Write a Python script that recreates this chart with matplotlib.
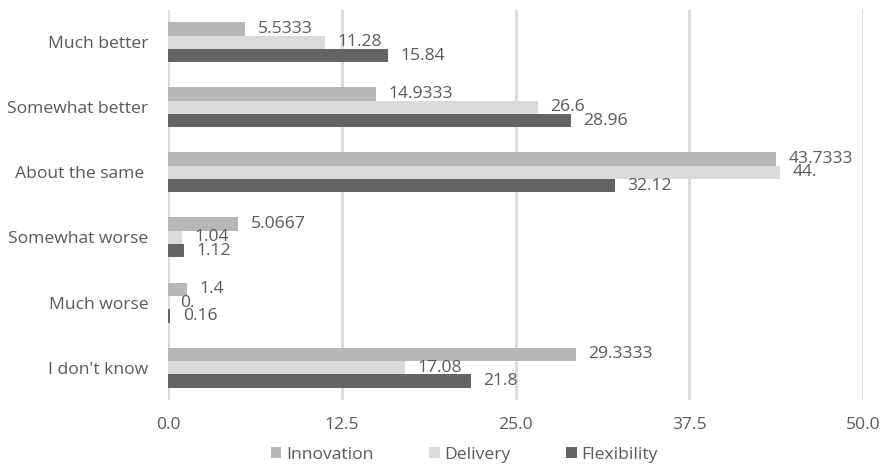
import matplotlib.pyplot as plt
import numpy as np

plt.rcParams['font.family'] = ['Open Sans', 'DejaVu Sans']

categories = ['Much better', 'Somewhat better', 'About the same ', 'Somewhat worse',
              'Much worse', "I don't know"]
innovation = [5.5333, 14.9333, 43.7333, 5.0667, 1.4, 29.3333]
delivery = [11.28, 26.6, 44.0, 1.04, 0.0, 17.08]
flexibility = [15.84, 28.96, 32.12, 1.12, 0.16, 21.8]
xticks = [0.0, 12.5, 25.0, 37.5, 50.0]

series = [('Innovation', innovation, '#b7b7b7'),
          ('Delivery', delivery, '#d9dbda'),
          ('Flexibility', flexibility, '#646464')]

txt = '#595959'
fs = 12.6


def fmt(v):
    return f'{v:.4f}'.rstrip('0')


fig = plt.figure(figsize=(8.86, 4.69), dpi=100)
ax = fig.add_axes([0.1896, 0.147, 0.7846, 0.832])

y = np.arange(len(categories))
h = 0.205
for k, (name, vals, col) in enumerate(series):
    bars = ax.barh(y + (k - 1) * h, vals, height=h, color=col, label=name, zorder=3)
    ax.bar_label(bars, labels=[fmt(v) for v in vals], padding=9,
                 fontsize=fs, color=txt)

ax.set_ylim(-0.5, len(categories) - 0.5)
ax.invert_yaxis()
ax.set_xlim(0, 50)
ax.set_xticks(xticks)
ax.set_xticklabels([f'{t:.1f}' for t in xticks])
ax.set_yticks(y)
ax.set_yticklabels(categories)
ax.tick_params(axis='both', length=0, labelsize=fs, labelcolor=txt)
ax.tick_params(axis='x', pad=12)
ax.tick_params(axis='y', pad=14)
ax.grid(axis='x', color='#d9d9d9', linewidth=2, zorder=0)
for s in ax.spines.values():
    s.set_visible(False)

fig.legend(loc='center', bbox_to_anchor=(0.524, 0.03), ncol=3, frameon=False,
           fontsize=fs, labelcolor=txt, handlelength=0.6, handleheight=0.6,
           handletextpad=0.25, columnspacing=3.2)

fig.savefig('out.png', dpi=100)
